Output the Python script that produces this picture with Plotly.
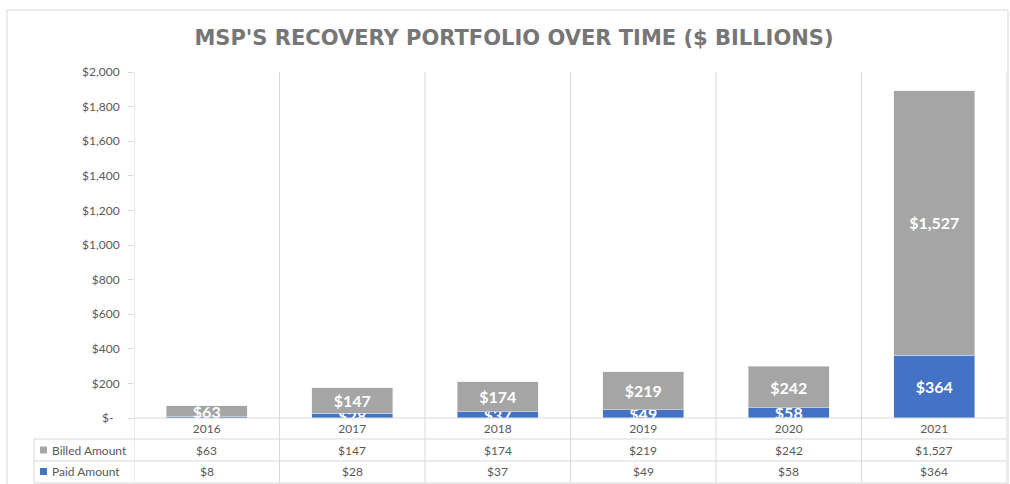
import plotly.graph_objects as go

years = ["2016", "2017", "2018", "2019", "2020", "2021"]
billed = [63, 147, 174, 219, 242, 1527]
paid = [8, 28, 37, 49, 58, 364]
series_names = ["Billed Amount", "Paid Amount"]
y_ticks = [0, 200, 400, 600, 800, 1000, 1200, 1400, 1600, 1800, 2000]
title_text = "MSP'S RECOVERY PORTFOLIO OVER TIME ($ BILLIONS)"

GRAY = "#A5A5A5"
BLUE = "#4472C4"
LINE = "#D9D9D9"
TXT = "#595959"
FONT = "Lato"

W, H = 1010, 484
L, R, T, B = 134, 3, 72, 66
PW, PH = W - L - R, H - T - B


def xp(px):
    return (px - L) / PW


def yp(py):
    return (H - B - py) / PH


def money(v):
    return "$" + format(v, ",")


fig = go.Figure()
fig.add_trace(go.Bar(
    x=years, y=paid, name=series_names[1], marker_color=BLUE,
    text=[money(v) for v in paid], textposition="inside",
    insidetextanchor="middle", constraintext="none",
    textfont=dict(family=FONT, size=16, color="white", weight="bold"),
))
fig.add_trace(go.Bar(
    x=years, y=billed, name=series_names[0], marker_color=GRAY,
    text=[money(v) for v in billed], textposition="inside",
    insidetextanchor="middle", constraintext="none",
    textfont=dict(family=FONT, size=16, color="white", weight="bold"),
))

shapes = []
# outer chart border
shapes.append(dict(type="rect", xref="paper", yref="paper",
                   x0=xp(7), x1=xp(1008), y0=yp(495), y1=yp(10),
                   line=dict(color=LINE, width=1), layer="below"))
# vertical lines at category boundaries (extend through the table)
for i in range(len(years) + 1):
    shapes.append(dict(type="line", xref="x", yref="paper",
                       x0=i - 0.5, x1=i - 0.5, y0=yp(483), y1=1,
                       line=dict(color=LINE, width=1), layer="below"))
# left column of the data table
shapes.append(dict(type="line", xref="paper", yref="paper",
                   x0=xp(34), x1=xp(34), y0=yp(483), y1=yp(439),
                   line=dict(color=LINE, width=1)))
# horizontal table lines
shapes.append(dict(type="line", xref="paper", yref="paper",
                   x0=0, x1=1, y0=0, y1=0, line=dict(color=LINE, width=1)))
for py in (439, 461, 483):
    shapes.append(dict(type="line", xref="paper", yref="paper",
                       x0=xp(34), x1=1, y0=yp(py), y1=yp(py),
                       line=dict(color=LINE, width=1)))
# legend keys
for py, col in ((450, GRAY), (471.5, BLUE)):
    shapes.append(dict(type="rect", xref="paper", yref="paper",
                       x0=xp(40), x1=xp(47), y0=yp(py + 3.5), y1=yp(py - 3.5),
                       line=dict(width=0), fillcolor=col))

annotations = []
for name, py in ((series_names[0], 450), (series_names[1], 471.5)):
    annotations.append(dict(xref="paper", yref="paper", x=xp(50), y=yp(py),
                            text=name, showarrow=False, xanchor="left",
                            yanchor="middle",
                            font=dict(family=FONT, size=12, color=TXT)))
for i in range(len(years)):
    annotations.append(dict(xref="x", yref="paper", x=i, y=yp(450),
                            text=money(billed[i]), showarrow=False,
                            yanchor="middle",
                            font=dict(family=FONT, size=12, color=TXT)))
    annotations.append(dict(xref="x", yref="paper", x=i, y=yp(471.5),
                            text=money(paid[i]), showarrow=False,
                            yanchor="middle",
                            font=dict(family=FONT, size=12, color=TXT)))

ticktext = [("$-\u00a0\u00a0" if v == 0 else money(v)) for v in y_ticks]

fig.update_layout(
    width=W, height=H,
    margin=dict(l=L, r=R, t=T, b=B),
    barmode="stack", bargap=0.44,
    showlegend=False,
    paper_bgcolor="white", plot_bgcolor="white",
    title=dict(text=title_text, x=514 / W, xref="container", xanchor="center",
               y=1 - 38 / H, yref="container", yanchor="middle",
               font=dict(family="DejaVu Sans", size=21, color="#767676",
                         weight="bold")),
    xaxis=dict(type="category", range=[-0.5, len(years) - 0.5],
               showgrid=False, showline=False, ticks="",
               tickfont=dict(family=FONT, size=12, color=TXT),
               ticklabelstandoff=2, fixedrange=True),
    yaxis=dict(range=[0, 2000], tickvals=y_ticks, ticktext=ticktext,
               showgrid=False, zeroline=False, showline=False,
               ticks="outside", ticklen=5, tickcolor=LINE,
               tickfont=dict(family=FONT, size=12, color=TXT),
               ticklabelstandoff=6),
    shapes=shapes, annotations=annotations,
)

fig.write_html("out.html", config={"displayModeBar": False},
               post_script="document.body.style.margin='0';"
                           "document.body.style.overflow='hidden';")
